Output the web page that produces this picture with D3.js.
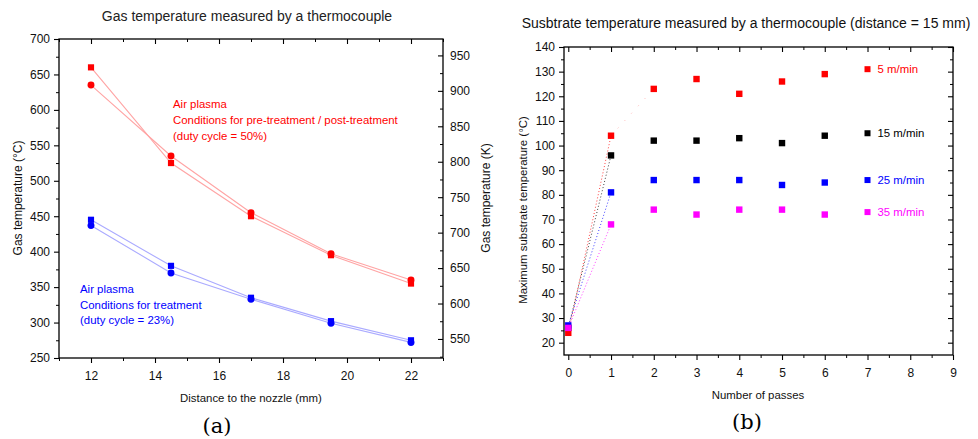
<!DOCTYPE html>
<html>
<head>
<meta charset="utf-8">
<script src="https://cdn.jsdelivr.net/npm/d3@7"></script>
<style>
  body { margin: 0; background: #fff; }
  text { font-family: 'Liberation Sans', Arial, sans-serif; }
</style>
</head>
<body>
<svg id="chart" width="978" height="439"></svg>
<script>
// (a) gas temperature vs distance to nozzle
const distance = [12, 14.5, 17, 19.5, 22];
const pretreatSquare = [660, 525, 450, 395, 355];
const pretreatCircle = [635, 535, 455, 397, 360];
const treatSquare = [445, 380, 335, 302, 275];
const treatCircle = [437, 370, 333, 299, 272];
const distTicks = [12, 14, 16, 18, 20, 22];
const celsiusTicks = [250, 300, 350, 400, 450, 500, 550, 600, 650, 700];
const kelvinTicks = [550, 600, 650, 700, 750, 800, 850, 900, 950];

// (b) substrate temperature vs number of passes
const passes = [0, 1, 2, 3, 4, 5, 6];
const speedNames = ['15 m/min', '5 m/min', '25 m/min', '35 m/min'];
const speedTemps = [
  [26, 96, 102, 102, 103, 101, 104],
  [24, 104, 123, 127, 121, 126, 129],
  [27, 81, 86, 86, 86, 84, 85],
  [26, 68, 74, 72, 74, 74, 72],
];
const speedLegendAt = [105, 131, 86, 73]; // legend sits at passes = 7
const passTicks = [0, 1, 2, 3, 4, 5, 6, 7, 8, 9];
const substrateTicks = [20, 30, 40, 50, 60, 70, 80, 90, 100, 110, 120, 130, 140];

const svg = d3.select('#chart');

// draws one axis: labelled major ticks plus unlabelled minor ticks
function addAxis(g, axisFn, scale, major, minor, len, pad, labels) {
  const a = g.append('g').call(
    axisFn(scale).tickValues(major).tickSize(len).tickPadding(pad)
      .tickFormat(labels ? d3.format('d') : () => '')
  );
  a.select('.domain').remove();
  a.selectAll('line').attr('stroke', '#000').attr('stroke-width', 1.1);
  a.selectAll('text').style('font-size', '12px').attr('fill', '#111');
  const m = g.append('g').call(axisFn(scale).tickValues(minor).tickSize(len * 0.6).tickFormat(() => ''));
  m.select('.domain').remove();
  m.selectAll('line').attr('stroke', '#000').attr('stroke-width', 1);
  return a;
}

// ---------------- chart (a) ----------------
const ax = d3.scaleLinear().domain([11, 23]).range([59, 443]);
const ay = d3.scaleLinear().domain([250, 700]).range([358, 39]);
const ayK = d3.scaleLinear().domain([250 + 273.15, 700 + 273.15]).range([358, 39]);

const ga = svg.append('g');
const oddDist = d3.range(11, 24, 2);
addAxis(ga.append('g').attr('transform', 'translate(0,358)'), d3.axisBottom, ax, distTicks, oddDist, 5, 8, true);
addAxis(ga.append('g').attr('transform', 'translate(0,39)'), d3.axisTop, ax, distTicks, oddDist, -5, 3, false);
addAxis(ga.append('g').attr('transform', 'translate(59,0)'), d3.axisLeft, ay, celsiusTicks,
  d3.range(275, 700, 50), 5, 4, true);
addAxis(ga.append('g').attr('transform', 'translate(443,0)'), d3.axisRight, ayK, kelvinTicks,
  d3.range(525, 975, 50), -5, 7, true);

ga.append('rect')
  .attr('x', 59).attr('y', 39).attr('width', 443 - 59).attr('height', 358 - 39)
  .attr('fill', 'none').attr('stroke', '#000').attr('stroke-width', 1.3);

const aSeries = [
  { vals: pretreatSquare, color: '#ff0000', line: '#ffa4a4', shape: 'square' },
  { vals: pretreatCircle, color: '#ff0000', line: '#ffa4a4', shape: 'circle' },
  { vals: treatSquare, color: '#0000ff', line: '#aaaaff', shape: 'square' },
  { vals: treatCircle, color: '#0000ff', line: '#aaaaff', shape: 'circle' },
];
const aLine = d3.line().x((d) => ax(d[0])).y((d) => ay(d[1]));

aSeries.forEach((s) => {
  const pts = distance.map((d, i) => [d, s.vals[i]]);
  ga.append('path').attr('d', aLine(pts))
    .attr('fill', 'none').attr('stroke', s.line).attr('stroke-width', 1.1);
  ga.selectAll(null).data(pts).enter()
    .append('path')
    .attr('transform', (d) => `translate(${ax(d[0])},${ay(d[1])})`)
    .attr('d', d3.symbol(s.shape === 'square' ? d3.symbolSquare : d3.symbolCircle, 38)())
    .attr('fill', s.color);
});

// annotations
const redNote = ['Air plasma', 'Conditions for pre-treatment / post-treatment', '(duty cycle = 50%)'];
const blueNote = ['Air plasma', 'Conditions for treatment', '(duty cycle = 23%)'];
ga.selectAll(null).data(redNote).enter().append('text')
  .attr('x', 173).attr('y', (d, i) => 108 + i * 16)
  .style('font-size', '11.4px').attr('fill', '#ff0000').text((d) => d);
ga.selectAll(null).data(blueNote).enter().append('text')
  .attr('x', 80).attr('y', (d, i) => 293 + i * 15.5)
  .style('font-size', '11.4px').attr('fill', '#0000ff').text((d) => d);

ga.append('text').attr('x', 247).attr('y', 21).attr('text-anchor', 'middle')
  .style('font-size', '14px').attr('fill', '#222')
  .text('Gas temperature measured by a thermocouple');
ga.append('text').attr('x', 251).attr('y', 402).attr('text-anchor', 'middle')
  .style('font-size', '11.4px').attr('fill', '#111').text('Distance to the nozzle (mm)');
ga.append('text').attr('transform', 'translate(22,198) rotate(-90)').attr('text-anchor', 'middle')
  .style('font-size', '12px').attr('fill', '#111').text('Gas temperature (°C)');
ga.append('text').attr('transform', 'translate(490,198) rotate(-90)').attr('text-anchor', 'middle')
  .style('font-size', '12px').attr('fill', '#111').text('Gas temperature (K)');
ga.append('text').attr('x', 217).attr('y', 433).attr('text-anchor', 'middle')
  .style('font-family', "'DejaVu Serif', serif").style('font-size', '21px').text('(a)');

// ---------------- chart (b) ----------------
const bx = d3.scaleLinear().domain([-0.1, 9]).range([564, 953]);
const by = d3.scaleLinear().domain([15, 140]).range([355, 47]);

const gb = svg.append('g');
const halfPass = d3.range(0.5, 9, 1);
addAxis(gb.append('g').attr('transform', 'translate(0,355)'), d3.axisBottom, bx, passTicks, halfPass, 5, 8, true);
addAxis(gb.append('g').attr('transform', 'translate(0,47)'), d3.axisTop, bx, passTicks, halfPass, -5, 3, false);
addAxis(gb.append('g').attr('transform', 'translate(564,0)'), d3.axisLeft, by, substrateTicks,
  d3.range(25, 140, 10), 5, 4, true);
addAxis(gb.append('g').attr('transform', 'translate(953,0)'), d3.axisRight, by, substrateTicks,
  d3.range(25, 140, 10), -5, 4, false);

gb.append('rect')
  .attr('x', 564).attr('y', 47).attr('width', 953 - 564).attr('height', 355 - 47)
  .attr('fill', 'none').attr('stroke', '#000').attr('stroke-width', 1.3);

const speedColors = ['#000000', '#ff0000', '#0000ff', '#ff00ff'];
const bLine = d3.line().x((d) => bx(d[0])).y((d) => by(d[1]));

// dotted rise from the first to the second pass
speedTemps.forEach((vals, k) => {
  gb.append('path').attr('d', bLine([[passes[0], vals[0]], [passes[1], vals[1]]]))
    .attr('fill', 'none').attr('stroke', speedColors[k]).attr('stroke-width', 1)
    .attr('stroke-dasharray', '1,2.2').attr('opacity', 0.75);
});
// faint continuation of the 5 m/min trend
gb.append('path').attr('d', bLine([[passes[1], speedTemps[1][1]], [passes[2], speedTemps[1][2]]]))
  .attr('fill', 'none').attr('stroke', '#ff6a6a').attr('stroke-width', 1)
  .attr('stroke-dasharray', '1,9').attr('opacity', 0.5);

speedTemps.forEach((vals, k) => {
  gb.selectAll(null).data(passes.map((p, i) => [p, vals[i]])).enter()
    .append('rect')
    .attr('x', (d) => bx(d[0]) - 3.2).attr('y', (d) => by(d[1]) - 3.2)
    .attr('width', 6.4).attr('height', 6.4)
    .attr('fill', speedColors[k]);
  // legend entry
  gb.append('rect')
    .attr('x', bx(7) - 3).attr('y', by(speedLegendAt[k]) - 3)
    .attr('width', 6).attr('height', 6).attr('fill', speedColors[k]);
  gb.append('text')
    .attr('x', bx(7) + 10).attr('y', by(speedLegendAt[k]) + 4)
    .style('font-size', '11.4px').attr('fill', speedColors[k]).text(speedNames[k]);
});

gb.append('text').attr('x', 746).attr('y', 28).attr('text-anchor', 'middle')
  .style('font-size', '14px').attr('fill', '#111')
  .text('Susbtrate temperature measured by a thermocouple (distance = 15 mm)');
gb.append('text').attr('x', 758).attr('y', 399).attr('text-anchor', 'middle')
  .style('font-size', '11.4px').attr('fill', '#111').text('Number of passes');
gb.append('text').attr('transform', 'translate(527,210) rotate(-90)').attr('text-anchor', 'middle')
  .style('font-size', '11.4px').attr('fill', '#111').text('Maximum substrate temperature (°C)');
gb.append('text').attr('x', 747).attr('y', 429).attr('text-anchor', 'middle')
  .style('font-family', "'DejaVu Serif', serif").style('font-size', '21px').text('(b)');
</script>
</body>
</html>
